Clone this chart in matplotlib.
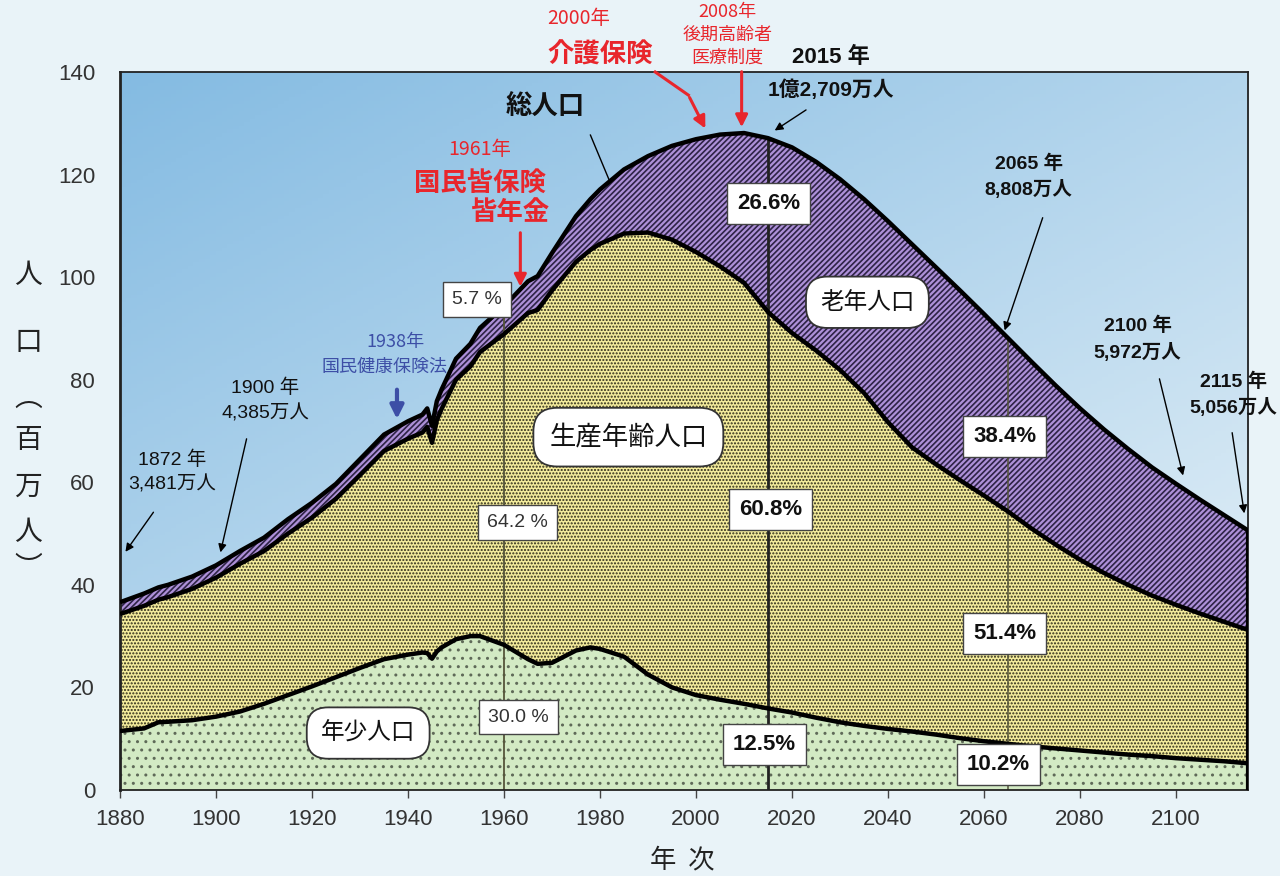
import matplotlib
matplotlib.use("Agg")
import matplotlib.pyplot as plt
import numpy as np

# population of Japan (millions)
years = [1880, 1885, 1888, 1890, 1895, 1900, 1905, 1910, 1915, 1920, 1925, 1930,
         1935, 1940, 1943, 1944, 1945, 1946, 1947, 1950, 1953, 1955, 1960, 1965,
         1967, 1970, 1975, 1978, 1980, 1985, 1990, 1995, 2000, 2005, 2010, 2015,
         2020, 2025, 2030, 2035, 2040, 2045, 2050, 2055, 2060, 2065, 2070, 2075,
         2080, 2085, 2090, 2095, 2100, 2105, 2110, 2115]
total = [36.6, 38.3, 39.5, 40.0, 41.6, 43.8, 46.6, 49.2, 52.8, 56.0, 59.7, 64.5,
         69.3, 71.9, 73.2, 74.4, 71.0, 75.8, 78.1, 84.1, 87.0, 90.1, 94.3, 99.2,
         100.2, 104.7, 111.9, 115.2, 117.1, 121.0, 123.6, 125.6, 126.9, 127.8, 128.1, 127.1,
         125.3, 122.5, 119.1, 115.2, 110.9, 106.4, 101.9, 97.4, 92.8, 88.1, 83.4, 78.8,
         74.4, 70.3, 66.5, 62.9, 59.7, 56.6, 53.6, 50.6]
young = [11.5, 12.0, 13.2, 13.3, 13.6, 14.3, 15.3, 16.8, 18.5, 20.2, 22.0, 23.8,
         25.5, 26.4, 26.8, 26.7, 25.6, 27.0, 27.8, 29.4, 30.0, 30.0, 28.3, 25.5,
         24.6, 24.8, 27.2, 27.8, 27.5, 26.0, 22.5, 20.0, 18.5, 17.6, 16.8, 15.9,
         15.1, 14.1, 13.2, 12.5, 11.9, 11.4, 10.8, 10.1, 9.5, 9.0, 8.5, 8.1,
         7.7, 7.3, 6.9, 6.6, 6.2, 5.9, 5.6, 5.2]
elderly = [2.3, 2.4, 2.4, 2.4, 2.4, 2.4, 2.5, 2.6, 2.8, 2.9, 2.9, 3.1,
           3.2, 3.4, 3.5, 3.6, 3.3, 3.7, 3.8, 4.1, 4.4, 4.7, 5.4, 6.2,
           6.6, 7.3, 8.9, 9.9, 10.6, 12.5, 14.9, 18.3, 22.0, 25.7, 29.2, 33.9,
           36.2, 36.8, 37.2, 37.8, 39.2, 39.6, 38.4, 37.0, 35.4, 33.8, 32.5, 31.0,
           29.5, 28.0, 26.5, 25.0, 23.6, 22.2, 20.8, 19.4]

mark_years = [1960, 2015, 2065]
elderly_pct = ["5.7 %", "26.6%", "38.4%"]
working_pct = ["64.2 %", "60.8%", "51.4%"]
young_pct = ["30.0 %", "12.5%", "10.2%"]

NUM = ["Liberation Sans", "Noto Sans CJK JP", "DejaVu Sans"]
CJK = ["Noto Sans CJK JP", "DejaVu Sans"]
RED = "#e8262c"
BLUE = "#3d4fa6"


def main():
    years_a = np.array(years)
    total_a = np.array(total)
    young_a = np.array(young)
    upper_a = total_a - np.array(elderly)

    fig = plt.figure(figsize=(12.8, 8.76), dpi=100, facecolor="#e9f3f8")
    ax = fig.add_axes([0.09375, 0.0982, 0.8813, 0.8196])

    # sky gradient behind the areas
    yy, xx = np.mgrid[0:1:200j, 0:1:200j]
    t = np.clip(0.6 * yy + 0.5 * xx, 0, 1)
    c0 = np.array([0x84, 0xbb, 0xe2]) / 255
    c1 = np.array([0xe2, 0xef, 0xf7]) / 255
    img = c0 + (c1 - c0) * t[..., None]
    ax.imshow(img, extent=[0, 1, 0, 1], transform=ax.transAxes, aspect="auto",
              zorder=0, origin="upper")

    with plt.rc_context({"hatch.color": "#5f6a58", "hatch.linewidth": 1.0}):
        ax.fill_between(years_a, 0, young_a, facecolor="#d3eac4", edgecolor="#5f6a58",
                        hatch="..", linewidth=0, zorder=1)
    with plt.rc_context({"hatch.color": "#2e2b18", "hatch.linewidth": 1.0}):
        ax.fill_between(years_a, young_a, upper_a, facecolor="#f4ec9c", edgecolor="#2e2b18",
                        hatch=".....", linewidth=0, zorder=1)
    with plt.rc_context({"hatch.color": "#2e2346", "hatch.linewidth": 1.2}):
        ax.fill_between(years_a, upper_a, total_a, facecolor="#ad90d8", edgecolor="#2e2346",
                        hatch="//////", linewidth=0, zorder=1)

    for s in (young_a, upper_a, total_a):
        ax.plot(years_a, s, color="black", lw=3.2, zorder=3, solid_capstyle="butt")
    ax.vlines(years_a[-1], 0, total_a[-1], color="black", lw=3, zorder=3)

    # marker lines at 1960, 2015, 2065
    line_styles = [("#55553a", 1.3), ("#222222", 2.0), ("#55553a", 1.1)]
    for yr, (c, lw) in zip(mark_years, line_styles):
        ax.vlines(yr, 0, np.interp(yr, years_a, total_a), color=c, lw=lw, zorder=2)

    # percentage boxes
    box_pos = {
        "5.7 %": (1954.4, 95.6, False), "26.6%": (2015.1, 114.4, True),
        "38.4%": (2064.3, 69.0, True), "64.2 %": (1962.8, 52.2, False),
        "60.8%": (2015.5, 54.6, True), "51.4%": (2064.3, 30.6, True),
        "30.0 %": (1963.0, 14.2, False), "12.5%": (2014.2, 8.8, True),
        "10.2%": (2063.0, 4.9, True),
    }
    for lab in elderly_pct + working_pct + young_pct:
        x, y, bold = box_pos[lab]
        ax.text(x, y, lab, ha="center", va="center", family=NUM,
                fontsize=16 if bold else 14, fontweight="bold" if bold else "normal",
                color="#111111" if bold else "#333333", zorder=5,
                bbox=dict(boxstyle="square,pad=0.45", fc="white", ec="#444444", lw=1.0))

    # group labels
    for lab, x, y, fs in [("老年人口", 2035.7, 95.1, 17), ("生産年齢人口", 1985.9, 68.8, 19),
                          ("年少人口", 1931.7, 11.1, 17)]:
        ax.text(x, y, lab, ha="center", va="center", family=CJK, fontsize=fs,
                color="#111111", zorder=5,
                bbox=dict(boxstyle="round,pad=0.6,rounding_size=0.9", fc="white",
                          ec="#333333", lw=1.3))

    # year / population annotations
    thin = dict(arrowstyle="-|>", color="black", lw=1.0, mutation_scale=12)
    notes = [
        ("1872 年\n3,481万人", (1890.8, 62.0), (1887.3, 54.6), (1880.8, 46.0), False),
        ("1900 年\n4,385万人", (1910.2, 76.0), (1906.5, 69.0), (1900.8, 45.8), False),
        ("2065 年\n8,808万人", (2069.3, 119.6), (2072.4, 112.1), (2064.1, 89.1), True),
        ("2100 年\n5,972万人", (2092.0, 87.9), (2096.4, 80.7), (2101.6, 60.8), True),
        ("2115 年\n5,056万人", (2112.0, 77.1), (2111.6, 70.2), (2114.3, 53.4), True),
    ]
    for txt, tpos, start, end, bold in notes:
        ax.text(*tpos, txt, ha="center", va="center", family=NUM, fontsize=14,
                fontweight="bold" if bold else "normal", linespacing=1.5,
                color="#111111", zorder=6)
        ax.annotate("", xy=end, xytext=start, arrowprops=thin, zorder=6,
                    annotation_clip=False)

    ax.text(2028.0, 142.9, "2015 年", ha="center", va="center", family=NUM,
            fontsize=16, fontweight="bold", color="#111111", clip_on=False)
    ax.text(2028.0, 136.5, "1億2,709万人", ha="center", va="center", family=NUM,
            fontsize=15, fontweight="bold", color="#111111", clip_on=False)
    ax.annotate("", xy=(2015.9, 128.3), xytext=(2023.4, 132.9), arrowprops=thin,
                annotation_clip=False)

    ax.text(1968.6, 133.1, "総人口", ha="center", va="center", family=CJK, fontsize=19,
            fontweight="bold", color="#111111")
    ax.plot([1978.0, 1982.1], [127.7, 118.5], color="black", lw=1.0, zorder=6)

    # red policy annotations
    red_arrow = dict(arrowstyle="-|>", color=RED, lw=2.2, mutation_scale=18)
    ax.text(1955.0, 124.8, "1961年", ha="center", va="center", family=CJK, fontsize=14,
            color=RED)
    ax.text(1955.0, 118.3, "国民皆保険", ha="center", va="center", family=CJK,
            fontsize=19, fontweight="bold", color=RED)
    ax.text(1961.3, 112.7, "皆年金", ha="center", va="center", family=CJK,
            fontsize=19, fontweight="bold", color=RED)
    ax.annotate("", xy=(1963.4, 97.6), xytext=(1963.4, 109.2), arrowprops=red_arrow)

    ax.text(1975.5, 150.5, "2000年", ha="center", va="center", family=CJK, fontsize=14,
            color=RED, clip_on=False)
    ax.text(1980.1, 143.3, "介護保険", ha="center", va="center", family=CJK, fontsize=19,
            fontweight="bold", color=RED, clip_on=False)
    ax.plot([1991.5, 1998.4], [140.0, 135.5], color=RED, lw=2.2, clip_on=False, zorder=6)
    ax.annotate("", xy=(2002.2, 128.5), xytext=(1998.4, 135.5), arrowprops=red_arrow,
                annotation_clip=False)

    ax.text(2006.5, 151.7, "2008年", ha="center", va="center", family=CJK, fontsize=13,
            color=RED, clip_on=False)
    ax.text(2006.5, 147.2, "後期高齢者", ha="center", va="center", family=CJK,
            fontsize=13, color=RED, clip_on=False)
    ax.text(2006.5, 142.7, "医療制度", ha="center", va="center", family=CJK, fontsize=13,
            color=RED, clip_on=False)
    ax.annotate("", xy=(2009.5, 128.7), xytext=(2009.5, 140.6), arrowprops=red_arrow,
                annotation_clip=False)

    # 1938 blue annotation
    ax.text(1937.3, 87.3, "1938年", ha="center", va="center", family=CJK, fontsize=13,
            color=BLUE)
    ax.text(1935.2, 82.5, "国民健康保険法", ha="center", va="center", family=CJK,
            fontsize=13, color=BLUE)
    ax.annotate("", xy=(1937.7, 71.8), xytext=(1937.7, 78.6),
                arrowprops=dict(arrowstyle="-|>", color=BLUE, lw=3, mutation_scale=20))

    # axes
    ax.set_xlim(1880, 2115)
    ax.set_ylim(0, 140)
    ax.set_xticks(range(1880, 2101, 20))
    ax.set_yticks(range(0, 141, 20))
    ax.tick_params(axis="x", length=6, width=1, color="#444444", pad=8,
                   labelsize=16, labelcolor="#333333")
    ax.tick_params(axis="y", length=0, pad=18, labelsize=16, labelcolor="#333333")
    for lab in ax.get_xticklabels() + ax.get_yticklabels():
        lab.set_family(NUM)
    for side in ("left", "bottom", "top", "right"):
        ax.spines[side].set_color("#222222")
        ax.spines[side].set_linewidth(1.3)
    ax.spines["left"].set_linewidth(2)
    ax.set_zorder(1)

    # y label, stacked vertically
    for ch, py in [("人", 275), ("口", 342), ("︵", 398), ("百", 440), ("万", 487),
                   ("人", 532), ("︶", 568)]:
        fig.text(28 / 1280, 1 - py / 876, ch, ha="center", va="center", family=CJK,
                 fontsize=20, color="#222222")
    fig.text(682 / 1280, 1 - 860 / 876, "年  次", ha="center", va="center", family=CJK,
             fontsize=19, color="#222222")

    fig.savefig("out.png", dpi=100, facecolor=fig.get_facecolor())


if __name__ == "__main__":
    main()
